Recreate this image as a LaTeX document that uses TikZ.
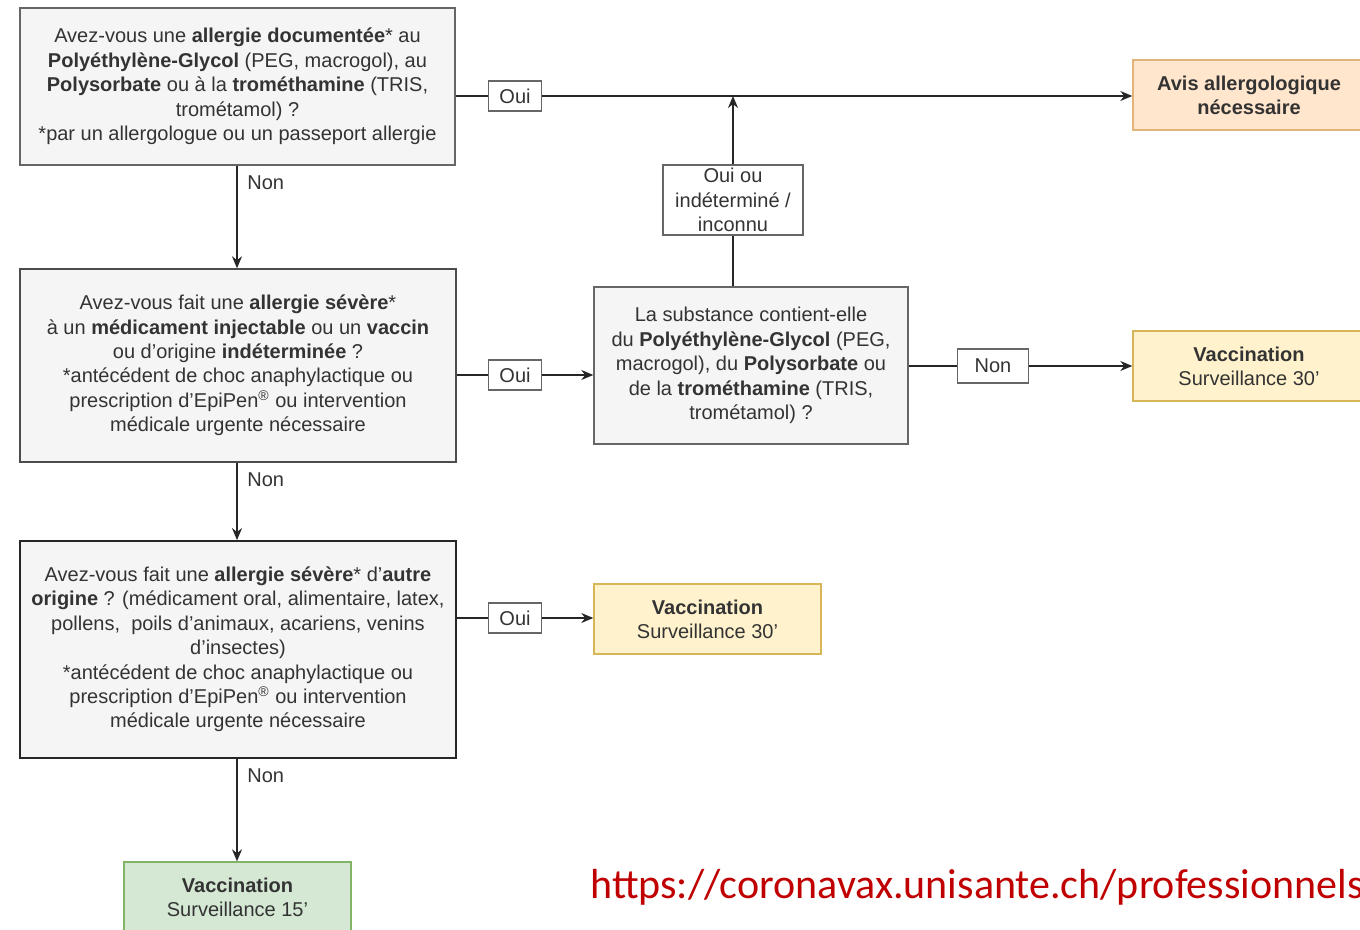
\documentclass[tikz,border=0pt]{standalone}
\usepackage{fontspec}
\setmainfont{Liberation Sans}
\newfontfamily\urlfont{Carlito}
\usetikzlibrary{positioning,arrows.meta}

\definecolor{qfill}{HTML}{F5F5F5}
\definecolor{qline}{HTML}{666666}
\definecolor{qtext}{HTML}{333333}
\definecolor{avisfill}{HTML}{FFE6CC}
\definecolor{avisline}{HTML}{E3B47A}
\definecolor{vaccfill}{HTML}{FFF2CC}
\definecolor{vaccline}{HTML}{D6B656}
\definecolor{okfill}{HTML}{D5E8D4}
\definecolor{okline}{HTML}{82B366}
\definecolor{urlred}{HTML}{C00000}

\begin{document}
\begin{tikzpicture}[x=0.5pt,y=-0.5pt,
    quest/.style={rectangle, draw=qline, fill=qfill, line width=0.7pt,
        align=center, text=qtext, font=\fontsize{10}{12.2}\selectfont, inner sep=2pt},
    result/.style={rectangle, line width=0.7pt, align=center, text=qtext,
        font=\fontsize{10}{12}\selectfont, minimum width=113.5pt, minimum height=35pt, inner sep=2pt},
    answer/.style={rectangle, draw=qline, fill=white, line width=0.6pt,
        align=center, text=qtext, font=\fontsize{10}{12.2}\selectfont, inner sep=1.5pt},
    plain/.style={text=qtext, font=\fontsize{10}{12}\selectfont, anchor=west, inner sep=1pt},
    link/.style={draw=black!85, line width=0.7pt},
    arr/.style={link, -{Stealth[length=6pt,width=5pt]}}
]
\useasboundingbox (0,0) rectangle (1360,930);
\fill[white] (0,0) rectangle (1360,930);
\clip (0,0) rectangle (1360,930);

% questions
\node (Quest01) [quest, minimum width=217.5pt, minimum height=78.5pt] at (237.5,86.5)
    {Avez-vous une \textbf{allergie documentée}* au\\
     \textbf{Polyéthylène-Glycol} (PEG, macrogol), au\\
     \textbf{Polysorbate} ou à la \textbf{trométhamine} (TRIS,\\
     trométamol) ?\\
     *par un allergologue ou un passeport allergie};
\node (Quest02) [quest, draw=black!70, minimum width=218pt, minimum height=96.5pt] at (238,365.5)
    {Avez-vous fait une \textbf{allergie sévère}*\\
     à un \textbf{médicament injectable} ou un \textbf{vaccin}\\
     ou d'origine \textbf{indéterminée} ?\\
     *antécédent de choc anaphylactique ou\\
     prescription d'EpiPen\textsuperscript{®} ou intervention\\
     médicale urgente nécessaire};
\node (Quest03) [quest, draw=black!85, line width=0.9pt, minimum width=218pt, minimum height=108.5pt] at (238,649.5)
    {Avez-vous fait une \textbf{allergie sévère}* d'\textbf{autre}\\
     \textbf{origine} ? (médicament oral, alimentaire, latex,\\
     pollens,\ \ poils d'animaux, acariens, venins\\
     d'insectes)\\
     *antécédent de choc anaphylactique ou\\
     prescription d'EpiPen\textsuperscript{®} ou intervention\\
     médicale urgente nécessaire};
\node (Subst) [quest, minimum width=157pt, minimum height=78.5pt] at (751,365.5)
    {La substance contient-elle\\
     du \textbf{Polyéthylène-Glycol} (PEG,\\
     macrogol), du \textbf{Polysorbate} ou\\
     de la \textbf{trométhamine} (TRIS,\\
     trométamol) ?};

% results
\node (Avis) [result, draw=avisline, fill=avisfill, minimum width=116pt] at (1249,95)
    {\textbf{Avis allergologique}\\ \textbf{nécessaire}};
\node (VaccR) [result, draw=vaccline, fill=vaccfill, minimum width=116pt] at (1249,366)
    {\textbf{Vaccination}\\ Surveillance 30'};
\node (VaccM) [result, draw=vaccline, fill=vaccfill] at (707.5,619)
    {\textbf{Vaccination}\\ Surveillance 30'};
\node (VaccB) [result, draw=okline, fill=okfill] at (237.5,897)
    {\textbf{Vaccination}\\ Surveillance 15'};

% answers
\node (Oui01) [answer, minimum width=26.5pt, minimum height=15pt] at (515,96) {Oui};
\node (Oui02) [answer, minimum width=26.5pt, minimum height=15pt] at (515,375) {Oui};
\node (Oui03) [answer, minimum width=26.5pt, minimum height=15pt] at (515,618) {Oui};
\node (Non01) [answer, minimum width=35.5pt, minimum height=17pt] at (993,366) {Non};
\node (OuiInc) [answer, minimum width=70pt, minimum height=35pt] at (733,200)
    {Oui ou\\ indéterminé /\\ inconnu};
\coordinate (Join) at (733,96);

% connectors
\draw[link] (Quest01.east |- Oui01) -- (Oui01);
\draw[arr] (Oui01) -- (Avis.west |- Oui01);
\draw[link] (Subst.north -| OuiInc) -- (OuiInc);
\draw[arr] (OuiInc) -- (Join);
\draw[link] (Quest02.east |- Oui02) -- (Oui02);
\draw[arr] (Oui02) -- (Subst.west |- Oui02);
\draw[link] (Subst.east |- Non01) -- (Non01);
\draw[arr] (Non01) -- (VaccR.west |- Non01);
\draw[link] (Quest03.east |- Oui03) -- (Oui03);
\draw[arr] (Oui03) -- (VaccM.west |- Oui03);
\draw[arr] (Quest01.south -| 237,0) -- (Quest02.north -| 237,0);
\draw[arr] (Quest02.south -| 237,0) -- (Quest03.north -| 237,0);
\draw[arr] (Quest03.south -| 237,0) -- (VaccB.north -| 237,0);

% no labels
\node (Non02) [plain] at (245,183) {Non};
\node (Non03) [plain] at (245,480) {Non};
\node (Non04) [plain] at (245,776) {Non};

\node (Url) [anchor=base west, text=urlred, font=\urlfont\fontsize{21}{23}\selectfont, inner sep=0pt]
    at (590,898) {https://coronavax.unisante.ch/professionnels};
\end{tikzpicture}
\end{document}
